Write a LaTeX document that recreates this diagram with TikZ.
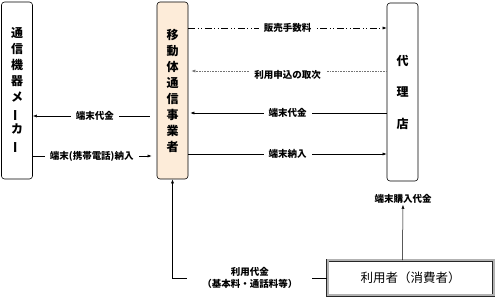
\documentclass[tikz,border=0pt]{standalone}
\usepackage{fontspec}
\setmainfont{Noto Sans CJK JP}
\usepackage{graphicx}
\usepackage{xcolor}
\usetikzlibrary{arrows.meta,positioning}
\definecolor{carrierfill}{RGB}{253,236,217}
\tikzset{
  partybox/.style={draw, rounded corners=3pt, align=center, minimum width=31pt, inner sep=0pt, line width=0.6pt, font=\fontsize{12pt}{16pt}\selectfont\bfseries},
  userbox/.style={draw=black!85, double=black!30, double distance=2pt, line width=0.6pt, fill=white, minimum width=166pt, minimum height=35pt, font=\fontsize{12.5pt}{15pt}\selectfont},
  flowmsg/.style={-{Latex[length=4pt,width=3pt]}, line width=0.5pt},
  feemsg/.style={flowmsg, dash pattern=on 7pt off 2.5pt on 1pt off 2.5pt on 1pt off 2.5pt},
  ordermsg/.style={flowmsg, draw=black!55, dash pattern=on 0.8pt off 0.8pt},
  flowlabel/.style={fill=white, inner xsep=5pt, inner ysep=1pt, align=center, font=\fontsize{9.5pt}{11.5pt}\selectfont\bfseries}
}

\begin{document}
\begin{tikzpicture}[x=1pt,y=-1pt]
\useasboundingbox (0,0) rectangle (496,302);
\node[partybox, minimum height=177pt] (maker) at (17,90.5) {通\\信\\機\\器\\メ\\\rotatebox[origin=c]{90}{ー}\\カ\\\rotatebox[origin=c]{90}{ー}};
\node[partybox, fill=carrierfill, minimum height=177pt] (carrier) at (172.5,90.5) {移\\動\\体\\通\\信\\事\\業\\者};
\node[partybox, minimum height=178pt, font=\fontsize{12pt}{31.5pt}\selectfont\bfseries] (agent) at (402.5,92) {代\\理\\店};
\node[userbox] (user) at (410.5,278) {利用者（消費者）};
\node[flowlabel] (buyprice) at (403,199) {端末購入代金};
\coordinate (feerow) at (0,28);
\coordinate (orderrow) at (0,71);
\coordinate (payrow) at (0,113);
\coordinate (deliverrow) at (0,154);
\coordinate (makerpayrow) at (0,116);
\coordinate (makerdeliverrow) at (0,156);
\draw[feemsg] (carrier.east |- feerow) -- node[flowlabel] {販売手数料} (agent.west |- feerow);
\draw[ordermsg, shorten >=3pt] (agent.west |- orderrow) -- node[flowlabel, yshift=-4pt] {利用申込の取次} (carrier.east |- orderrow);
\draw[flowmsg, shorten >=2pt] (agent.west |- payrow) -- node[flowlabel] {端末代金} (carrier.east |- payrow);
\draw[flowmsg] (carrier.east |- deliverrow) -- node[flowlabel] {端末納入} (agent.west |- deliverrow);
\draw[flowmsg, shorten <=7pt] (carrier.west |- makerpayrow) -- node[flowlabel] {端末代金} (maker.east |- makerpayrow);
\draw[flowmsg, shorten >=5pt] (maker.east |- makerdeliverrow) -- node[flowlabel, xshift=-3pt] {端末(携帯電話)納入} (carrier.west |- makerdeliverrow);
\draw[flowmsg] (user.west) -- node[flowlabel, inner xsep=15pt] {利用代金\\（基本料・通話料等）} (carrier.south |- user.west) -- (carrier.south);
\draw[flowmsg] (agent.south |- user.north) -- (buyprice);
\end{tikzpicture}
\end{document}
